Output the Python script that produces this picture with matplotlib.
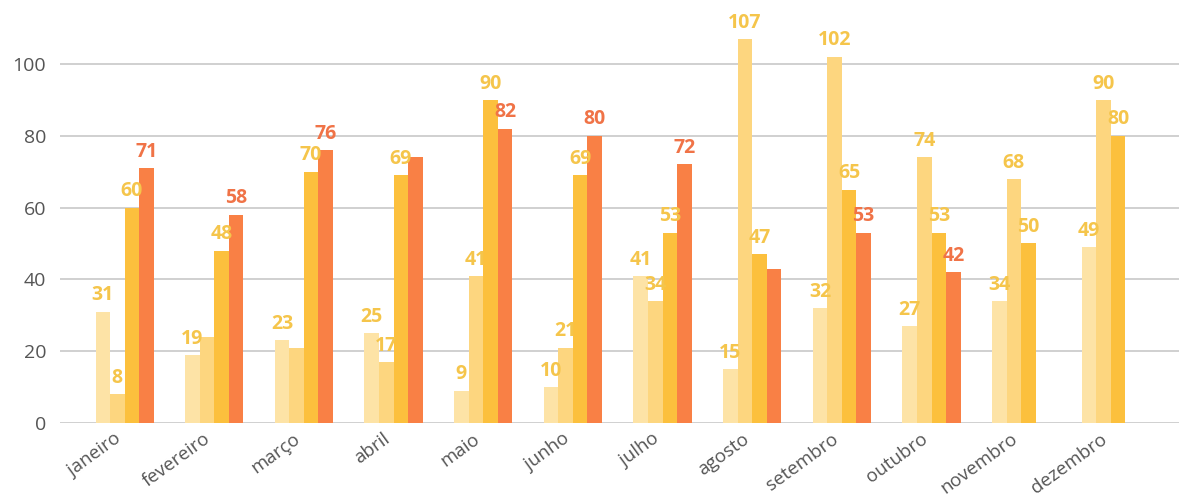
import matplotlib
matplotlib.use("Agg")
import matplotlib.pyplot as plt
import numpy as np

months = ["janeiro", "fevereiro", "março", "abril", "maio", "junho",
          "julho", "agosto", "setembro", "outubro", "novembro", "dezembro"]
serie_a = [31, 19, 23, 25, 9, 10, 41, 15, 32, 27, 34, 49]
serie_b = [8, 24, 21, 17, 41, 21, 34, 107, 102, 74, 68, 90]
serie_c = [60, 48, 70, 69, 90, 69, 53, 47, 65, 53, 50, 80]
serie_d = [71, 58, 76, 74, 82, 80, 72, 43, 53, 42, None, None]
y_ticks = [0, 20, 40, 60, 80, 100]
# labels hidden in the reference (overlap), as (month index, series index)
hidden_labels = [(1, 1), (2, 1), (3, 3), (7, 3)]

series = [serie_a, serie_b, serie_c, serie_d]
bar_colors = ["#FDE3A6", "#FDD67F", "#FCC03D", "#F98045"]
label_colors = ["#F5C54B", "#F5C54B", "#F5C54B", "#F07347"]

plt.rcParams['font.family'] = ['Open Sans', 'DejaVu Sans']

fig = plt.figure(figsize=(11.79, 4.99), dpi=100)
ax = fig.add_axes([60 / 1179, 1 - 423 / 499, 1 - 60 / 1179, (423 - 28) / 499])

x = np.arange(len(months))
w = 0.162
offsets = (np.arange(4) - 1.5) * w
for si, vals in enumerate(series):
    for mi, v in enumerate(vals):
        if v is None:
            continue
        xb = x[mi] + offsets[si]
        ax.bar(xb, v, width=w, color=bar_colors[si], linewidth=0, zorder=2)
        if (mi, si) in hidden_labels:
            continue
        ax.annotate(str(v), (xb, v), xytext=(0, 4.5), textcoords="offset points",
                    ha="center", va="bottom", fontsize=14, fontweight="bold",
                    color=label_colors[si], zorder=5)

ax.set_ylim(0, 110)
ax.set_xlim(-0.72, 11.76)
ax.set_yticks(y_ticks)
ax.set_yticklabels([str(t) for t in y_ticks], fontsize=14, color="#555555")
ax.set_xticks(x)
ax.set_xticklabels(months, rotation=36, ha="right", va="top",
                   fontsize=13.5, color="#555555")
ax.tick_params(axis="both", length=0)
ax.tick_params(axis="y", pad=10)
ax.tick_params(axis="x", pad=5)
ax.grid(axis="y", color="#D0D0D0", linewidth=1.4, zorder=0)
ax.set_axisbelow(True)
for s in ax.spines.values():
    s.set_visible(False)

fig.savefig("out.png", dpi=100)
